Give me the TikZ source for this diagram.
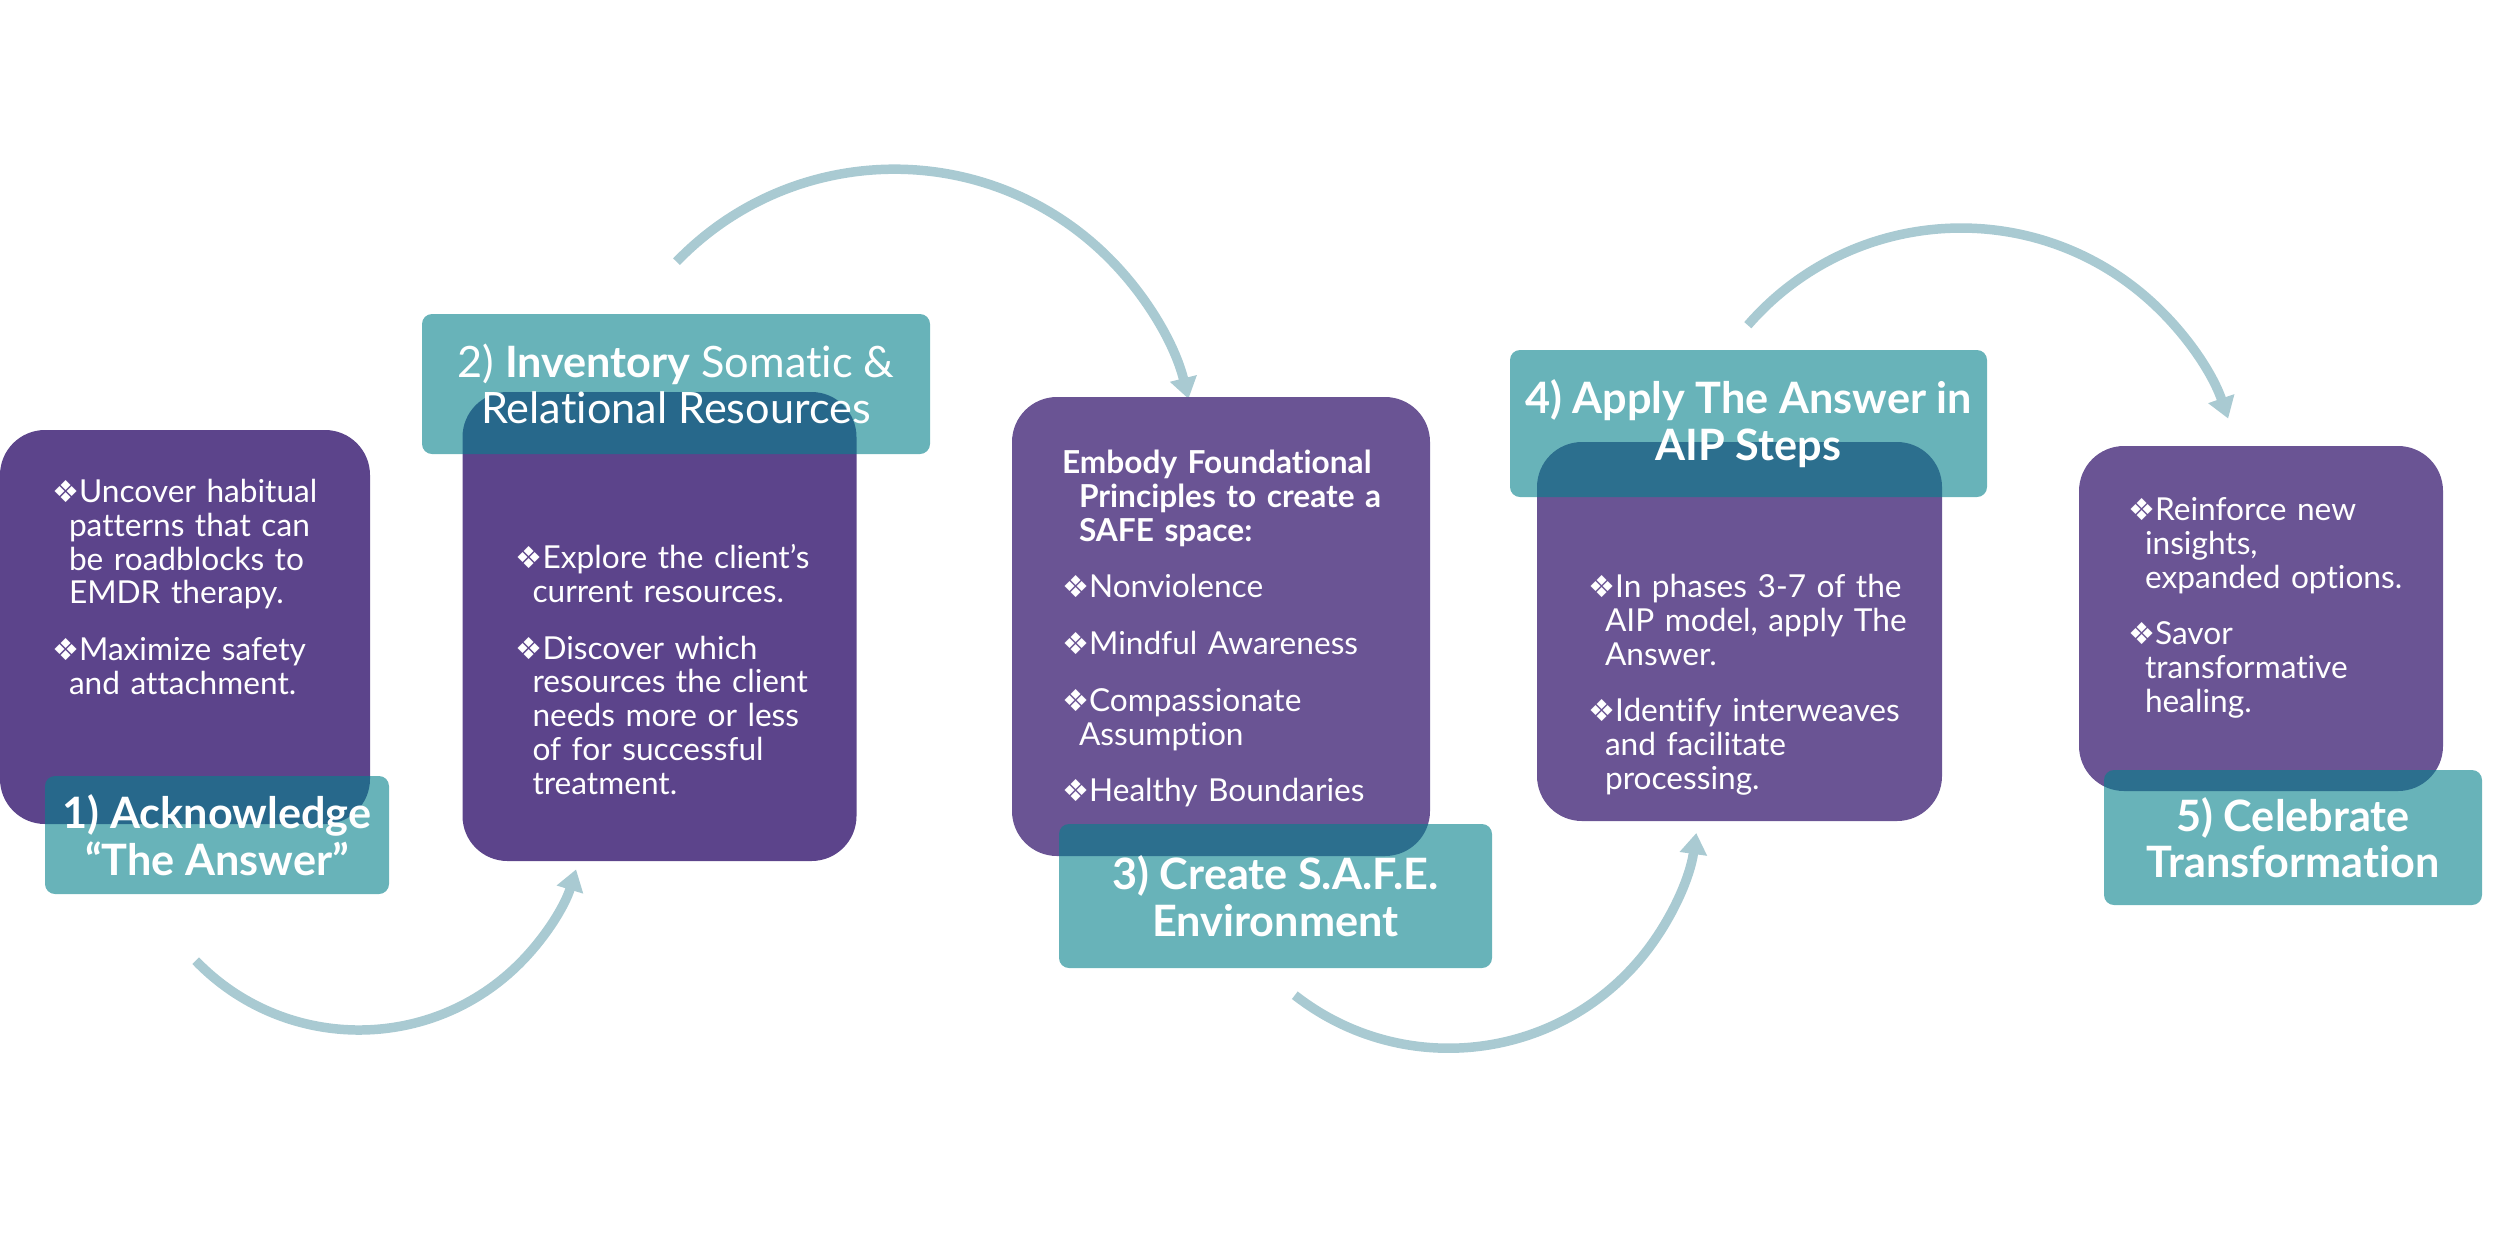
\documentclass[tikz,border=0pt]{standalone}
\usepackage{fontspec}
\setmainfont{Lato}[Ligatures=NoCommon]
\newfontfamily\dingfont{DejaVu Sans}
\usetikzlibrary{positioning,arrows.meta}
\definecolor{plum}{RGB}{92,68,139}
\definecolor{lilac}{RGB}{106,84,148}
\definecolor{lagoon}{RGB}{4,129,139}
\definecolor{arcblue}{RGB}{169,202,210}
\newcommand{\hang}{\par\hangindent=0.17cm\hangafter=1\noindent}
\newcommand{\bul}[1]{\hang{\dingfont\fontsize{8.6}{9}\selectfont ❖}#1\par}
\newcommand{\gap}{\vspace{0.23cm}}

\begin{document}
\begin{tikzpicture}[>={Triangle[width=7.5pt,length=6pt]},
  card/.style={fill=#1, rounded corners=0.45cm, inner sep=0},
  stepbox/.style={fill=lagoon, fill opacity=0.6, text opacity=1, text=white, rounded corners=0.1cm,
    align=center, inner sep=0, font=\fontsize{12.3}{13.2}\selectfont\bfseries},
  body/.style={text=white, inner sep=0, text width=4cm, align=left, font=\fontsize{9}{9.6}\selectfont},
  flow/.style={draw=arcblue, line width=2.7pt, ->}]
  \useasboundingbox (0,0) rectangle (25,-12.55);
  % curved arrows between the steps
  \foreach \n/\x/\y/\s/\e/\r in {1/1.957/-9.607/224/343/2.27, 2/6.765/-2.617/136/14/3.03,
      3/12.948/-9.952/232/352/2.50, 4/17.478/-3.252/139/19/2.825} {
    \coordinate (arc\n) at (\x,\y);
    \draw[flow] (arc\n) arc[start angle=\s, end angle=\e, radius=\r cm];
  }
  % purple cards
  \foreach \n/\col/\x/\y/\w/\h in {1/plum/1.85/-6.27/3.70/3.94, 2/plum/6.595/-6.265/3.94/4.69,
      3/lilac/12.21/-6.265/4.18/4.59, 4/lilac/17.395/-6.315/4.05/3.79, 5/lilac/22.61/-6.185/3.64/3.45}
    \node[card=\col, minimum width=\w cm, minimum height=\h cm] (box\n) at (\x,\y) {};

  \node[body, below right=0.39cm and 0.52cm of box1.north west] (txt1) {%
    \bul{Uncover habitual\newline patterns that can\newline be roadblocks to\newline EMDR therapy.}\gap
    \bul{Maximize safety\newline and attachment.}};
  \node[body, below right=1.43cm and 0.53cm of box2.north west] (txt2) {%
    \bul{Explore the client’s\newline current resources.}\gap
    \bul{Discover which\newline resources the client\newline needs more or less\newline of for successful\newline treatment.}};
  \node[body, below right=0.43cm and 0.50cm of box3.north west] (txt3) {%
    {\bfseries\hang Embody Foundational\newline Principles to create a\newline SAFE space:\par}\gap
    \bul{Nonviolence}\gap
    \bul{Mindful Awareness}\gap
    \bul{Compassionate\newline Assumption}\gap
    \bul{Healthy Boundaries}};
  \node[body, below right=1.22cm and 0.51cm of box4.north west] (txt4) {%
    \bul{In phases 3-7 of the\newline AIP model, apply The\newline Answer.}\gap
    \bul{Identify interweaves\newline and facilitate\newline processing.}};
  \node[body, below right=0.41cm and 0.49cm of box5.north west] (txt5) {%
    \bul{Reinforce new\newline insights,\newline expanded options.}\gap
    \bul{Savor\newline transformative\newline healing.}};

  % teal step labels
  \node[stepbox, minimum width=3.44cm, minimum height=1.18cm] (step1) at (2.17,-8.35) {1) Acknowledge\\“The Answer”};
  \node[stepbox, minimum width=5.08cm, minimum height=1.40cm, font=\fontsize{12.3}{13.2}\selectfont] (step2) at (6.76,-3.84) {2) \textbf{Inventory} Somatic \&\\Relational Resources};
  \node[stepbox, minimum width=4.33cm, minimum height=1.44cm] (step3) at (12.755,-8.96) {3) Create S.A.F.E.\\Environment};
  \node[stepbox, minimum width=4.77cm, minimum height=1.47cm] (step4) at (17.485,-4.235) {4) Apply The Answer in\\AIP Steps};
  \node[stepbox, minimum width=3.78cm, minimum height=1.35cm] (step5) at (22.93,-8.375) {5) Celebrate\\Transformation};
\end{tikzpicture}
\end{document}
